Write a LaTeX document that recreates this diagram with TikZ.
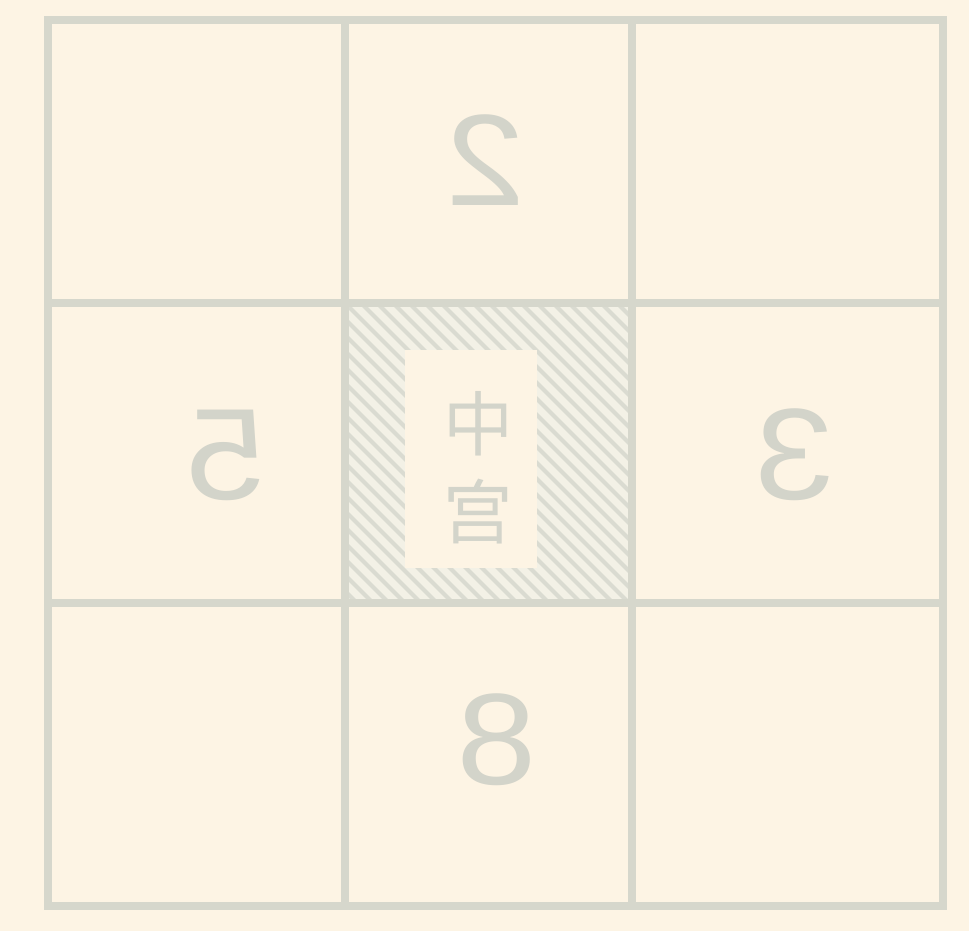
\documentclass[tikz,border=0pt]{standalone}
\usepackage{fontspec}
\setmainfont{Liberation Sans}
\newfontfamily\cjk{Noto Sans CJK SC}
\usepackage{tikz}
\usetikzlibrary{calc, positioning}
\definecolor{papier}{HTML}{FDF4E4}
\definecolor{linie}{HTML}{D6D7CC}
\definecolor{ziffer}{HTML}{D3D4CA}
\definecolor{schraffur}{HTML}{DADBD1}
\definecolor{mitte}{HTML}{F3F1E6}

\begin{document}
\begin{tikzpicture}[
        x=0.02cm, y=-0.02cm,
        gitter/.style={linie, line width=5pt},
        zahl/.style={ziffer, font=\fontsize{74}{74}\selectfont, xscale=-1.1},
      ]
      % Hintergrund
      \fill[papier] (0,0) rectangle (969,931);
      \useasboundingbox (0,0) rectangle (969,931);

      % Mittelfeld schraffiert
      \fill[mitte] (345,303) rectangle (632,603);
      \begin{scope}
        \clip (345,303) rectangle (632,603);
        \foreach \s in {-320,-304,...,320} {
          \draw[schraffur, line width=2.4pt] (345+\s,303) -- (645+\s,603);
        }
      \end{scope}
      \fill[papier] (405,350) rectangle (537,568);

      % Gitter
      \draw[gitter] (48,20) rectangle (943,906);
      \draw[gitter] (345,20) -- (345,906);
      \draw[gitter] (632,20) -- (632,906);
      \draw[gitter] (48,303) -- (943,303);
      \draw[gitter] (48,603) -- (943,603);

      % Zahlen (gespiegelt)
      \node[zahl] (oben)   at (486,160) {2};
      \node[zahl] (links)  at (226,455) {5};
      \node[zahl] (rechts) at (795,455) {3};
      \node[zahl] (unten)  at (497,740) {8};

      % Mitte
      \node[ziffer, xscale=-1, align=center, inner sep=0pt,
            font=\cjk\fontsize{40}{50}\selectfont] (zentrum) at (478,468) {中\\宫};
    \end{tikzpicture}
\end{document}
